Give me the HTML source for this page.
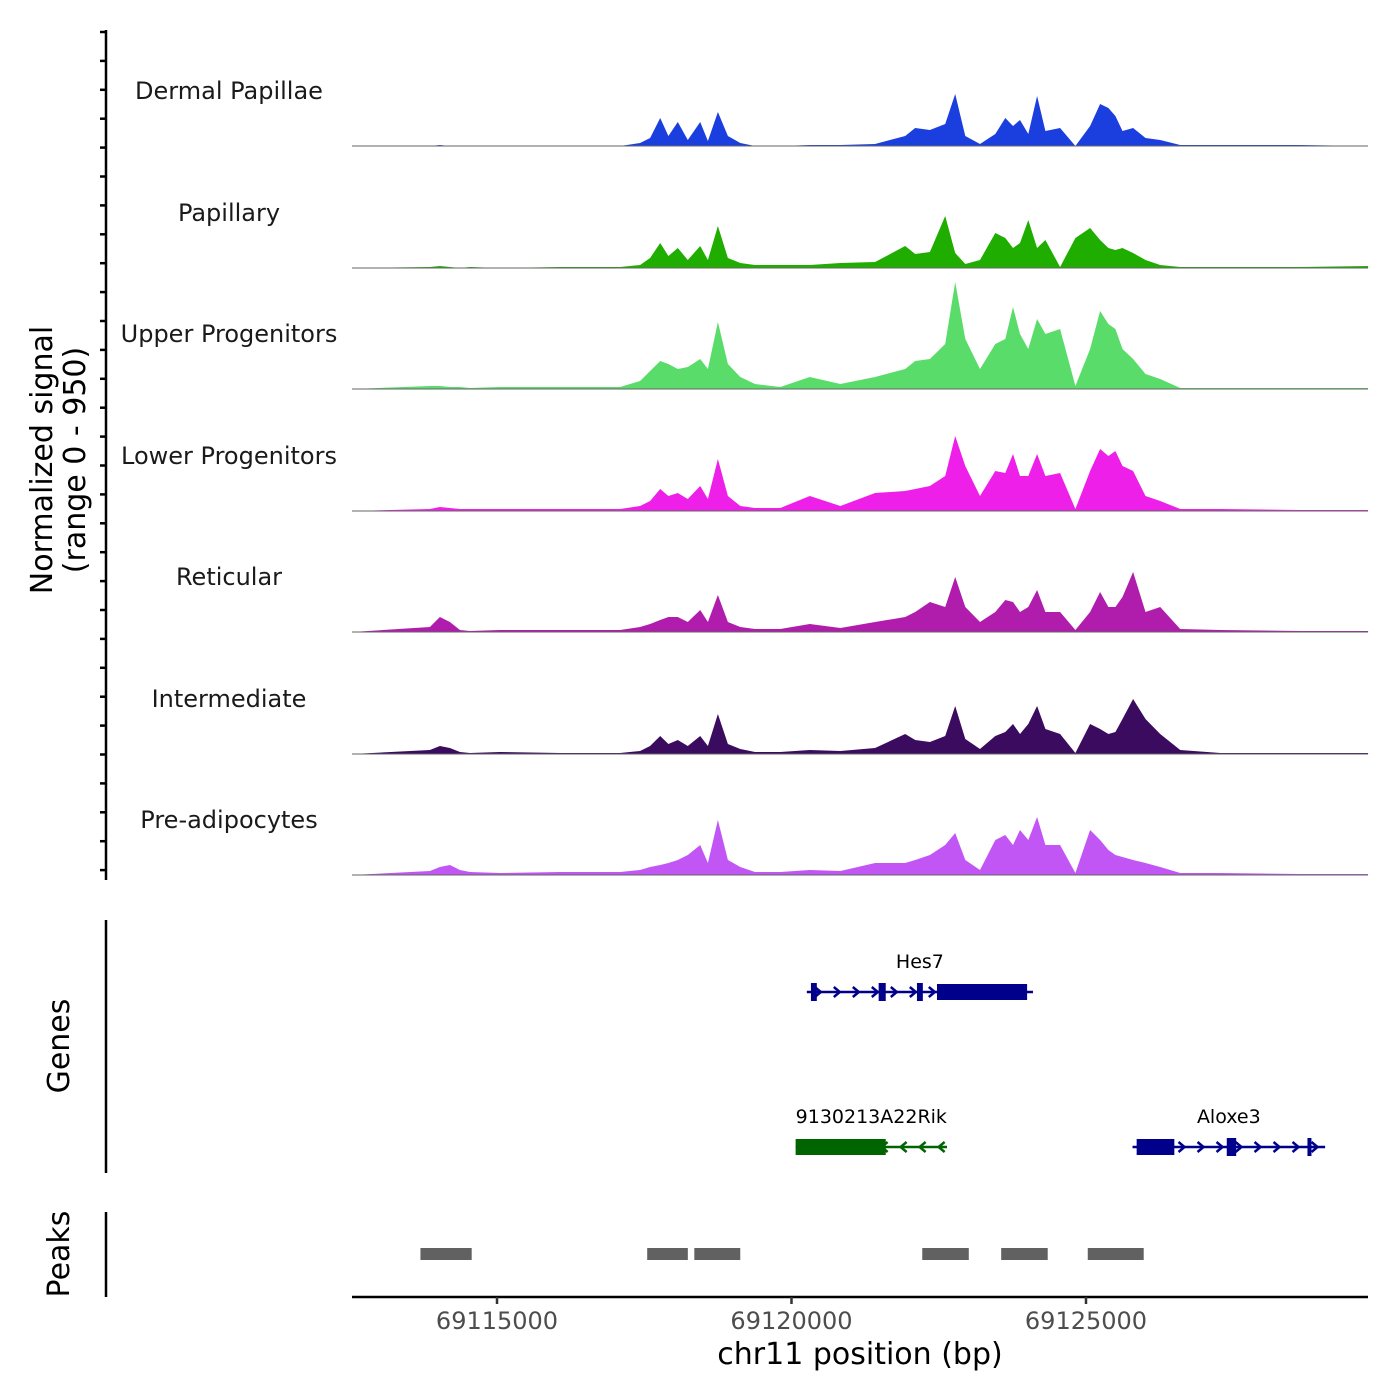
<!DOCTYPE html>
<html><head><meta charset="utf-8"><style>
html,body{margin:0;padding:0;background:#fff}
svg{display:block;font-family:"DejaVu Sans","Liberation Sans",sans-serif}
</style></head><body>
<svg id="chart" width="1400" height="1400" viewBox="0 0 1400 1400" xmlns="http://www.w3.org/2000/svg">
<g id="tracks"></g>
<line x1="106" y1="30" x2="106" y2="880" stroke="#000" stroke-width="2.5"/>
<g id="yticks"></g>
<text x="52" y="460" font-size="30" text-anchor="middle" transform="rotate(-90 52 460)">Normalized signal</text>
<text x="85" y="460" font-size="30" text-anchor="middle" transform="rotate(-90 85 460)">(range 0 - 950)</text>
<line x1="106" y1="920" x2="106" y2="1173" stroke="#000" stroke-width="2.5"/>
<text x="69" y="1046" font-size="30" text-anchor="middle" transform="rotate(-90 69 1046)">Genes</text>
<g id="genes"></g>
<line x1="106" y1="1212" x2="106" y2="1297" stroke="#000" stroke-width="2.5"/>
<text x="69" y="1254" font-size="30" text-anchor="middle" transform="rotate(-90 69 1254)">Peaks</text>
<g id="peaks"></g>
<line x1="352" y1="1297" x2="1368" y2="1297" stroke="#000" stroke-width="2.5"/>
<g id="xticks"></g>
<text x="860" y="1364" font-size="30" text-anchor="middle">chr11 position (bp)</text>
</svg>
<script>
const positionsKb = [69112.54,69113.86,69114.03,69114.20,69114.37,69114.54,69115.05,69116.07,69117.09,69117.43,
69117.60,69117.77,69117.91,69118.07,69118.24,69118.45,69118.58,69118.75,69118.92,69119.13,
69119.38,69119.81,69120.31,69120.83,69121.42,69121.93,69122.10,69122.35,69122.61,69122.78,
69122.95,69123.20,69123.46,69123.63,69123.76,69123.88,69124.02,69124.17,69124.31,69124.56,
69124.82,69125.07,69125.24,69125.38,69125.50,69125.62,69125.80,69126.01,69126.26,69126.60,
69127.28,69128.63,69129.79];
const trackNames = ["Dermal Papillae","Papillary","Upper Progenitors","Lower Progenitors","Reticular","Intermediate","Pre-adipocytes"];
const trackColors = ["#1a3fde","#1fad00","#5adc6a","#ee1fe8","#b01cab","#3a0b5e","#c256f5"];
const dermalPapillae = [0,0,1,0,0,0,0,0,0,3, 8,28,10,24,6,24,5,34,10,3, 0,0,1,1,2,10,18,16,22,52, 10,2,12,28,20,26,12,50,15,18, 0,20,42,38,30,15,18,8,6,1, 1,1,0];
const papillary = [0,1,2,1,0,1,0,1,1,3, 10,25,12,20,8,22,8,42,10,5, 3,3,3,5,6,22,14,16,52,15, 4,8,35,30,20,25,48,20,28,1, 30,40,28,20,18,20,15,8,3,1, 1,1,2];
const upperProgenitors = [0,3,3,2,2,1,2,2,2,8, 18,28,25,20,22,30,20,67,25,12, 5,2,12,5,12,20,28,30,45,107, 50,20,45,50,82,55,40,70,55,60, 3,40,78,65,60,40,30,15,10,1, 1,1,1];
const lowerProgenitors = [0,2,4,3,2,2,2,2,2,5, 10,22,15,18,12,25,12,52,15,5, 3,3,15,5,18,20,22,25,35,75, 45,15,40,38,57,35,35,57,35,38, 2,40,62,55,60,45,40,15,10,2, 2,1,1];
const reticular = [0,5,15,10,2,1,2,2,2,5, 8,12,15,15,10,22,10,37,10,5, 3,3,8,4,10,15,20,30,25,55, 25,10,20,32,30,20,25,42,20,20, 2,20,40,25,25,35,60,20,25,3, 2,1,1];
const intermediate = [0,4,8,6,2,1,2,1,1,3, 8,18,10,14,8,18,8,40,10,5, 2,2,4,3,6,20,14,12,18,48, 15,5,18,22,30,20,30,48,25,20, 1,30,25,20,22,35,55,35,20,4, 1,1,1];
const preAdipocytes = [0,4,8,10,5,3,2,3,3,5, 8,10,12,15,20,30,12,55,15,8, 3,3,5,4,12,12,15,20,30,42, 15,5,35,40,30,45,35,58,30,30, 2,45,35,25,20,18,15,12,8,2, 2,1,1];
const trackValues = [dermalPapillae,papillary,upperProgenitors,lowerProgenitors,reticular,intermediate,preAdipocytes];
const xTickValues = [69115000,69120000,69125000];
const xTickLabels = ["69115000","69120000","69125000"];
const geneNames = ["Hes7","9130213A22Rik","Aloxe3"];
const geneStarts = [69120260,69120070,69125790];
const geneEnds = [69124100,69122640,69129060];
const geneStrands = ["+","-","+"];
const geneRows = [0,1,1];
const geneColors = ["#00008b","#006400","#00008b"];
const exonStarts = [[69120330,69121480,69122130,69122470],[69120070],[69125860,69127390,69128760]];
const exonEnds = [[69120430,69121600,69122230,69124000],[69121600],[69126500,69127550,69128800]];
const peakStarts = [69113700,69117550,69118350,69122220,69123560,69125030];
const peakEnds = [69114570,69118240,69119130,69123010,69124350,69125980];

const NS="http://www.w3.org/2000/svg";
const X0=352,X1=1368,BP0=69112538,BP1=69129788;
const xScale = bp => X0 + (bp-BP0)/(BP1-BP0)*(X1-X0);
const baselines=[146,268,389,511,632,754,875];
const yScale = (v,base) => base - v/118*118;
function mk(tag,attrs,parent){const e=document.createElementNS(NS,tag);for(const k in attrs)e.setAttribute(k,attrs[k]);parent.appendChild(e);return e;}

const tg=document.getElementById('tracks');
trackValues.forEach((vals,t)=>{
  const base=baselines[t];
  let d=`M${xScale(positionsKb[0]*1000)},${base}`;
  vals.forEach((v,i)=>{d+=` L${xScale(positionsKb[i]*1000).toFixed(1)},${yScale(v,base).toFixed(1)}`;});
  d+=` L${xScale(positionsKb[positionsKb.length-1]*1000)},${base} Z`;
  const p=mk('path',{d:d,fill:trackColors[t],stroke:'none'},tg);
  
  
  const l=mk('line',{x1:X0,x2:X1,y1:base,y2:base,stroke:'#666','stroke-width':1},tg);
  
  
  const tx=mk('text',{x:229,y:base-47,'font-size':24,'text-anchor':'middle',fill:'#1a1a1a'},tg);
  tx.textContent=trackNames[t];
  
  
});
const yt=document.getElementById('yticks');
for(let y=32;y<=878;y+=28.9){
  const l=mk('line',{x1:100,x2:106,y1:y.toFixed(1),y2:y.toFixed(1),stroke:'#000','stroke-width':2.5},yt);
  
  
}
const xt=document.getElementById('xticks');
xTickValues.forEach((v,i)=>{
  const x=xScale(v);
  const l=mk('line',{x1:x,x2:x,y1:1297,y2:1304,stroke:'#333','stroke-width':2.5},xt);
  
  
  const t=mk('text',{x:x,y:1329,'font-size':24,'text-anchor':'middle',fill:'#4d4d4d'},xt);
  t.textContent=xTickLabels[i];
  
  
});
const gg=document.getElementById('genes');
const rowY=[992,1147];
geneNames.forEach((g,i)=>{
  const y=rowY[geneRows[i]], c=geneColors[i];
  const xs=xScale(geneStarts[i]), xe=xScale(geneEnds[i]);
  const grp=mk('g',{},gg);
  
  
  mk('line',{x1:xs,x2:xe,y1:y,y2:y,stroke:c,'stroke-width':2.5},grp);
  for(let x=xs+12;x<xe-6;x+=19){
    const dir=geneStrands[i]==='+'?1:-1;
    mk('polyline',{points:`${x-4*dir},${y-5} ${x+2*dir},${y} ${x-4*dir},${y+5}`,fill:'none',stroke:c,'stroke-width':2.5},grp);
  }
  exonStarts[i].forEach((s,j)=>{
    const a=xScale(s), b=xScale(exonEnds[i][j]);
    const h=(b-a)>20?16:18;
    mk('rect',{x:a,y:y-h/2,width:Math.max(b-a,4),height:h,fill:c},grp);
  });
  const t=mk('text',{x:(xs+xe)/2,y:y-24,'font-size':19,'text-anchor':'middle',fill:'#000'},grp);
  t.textContent=g;
  
  
});
const pg=document.getElementById('peaks');
peakStarts.forEach((s,i)=>{
  const r=mk('rect',{x:xScale(s),y:1248,width:xScale(peakEnds[i])-xScale(s),height:12,fill:'#616161'},pg);
  
  
});
</script>
</body></html>
